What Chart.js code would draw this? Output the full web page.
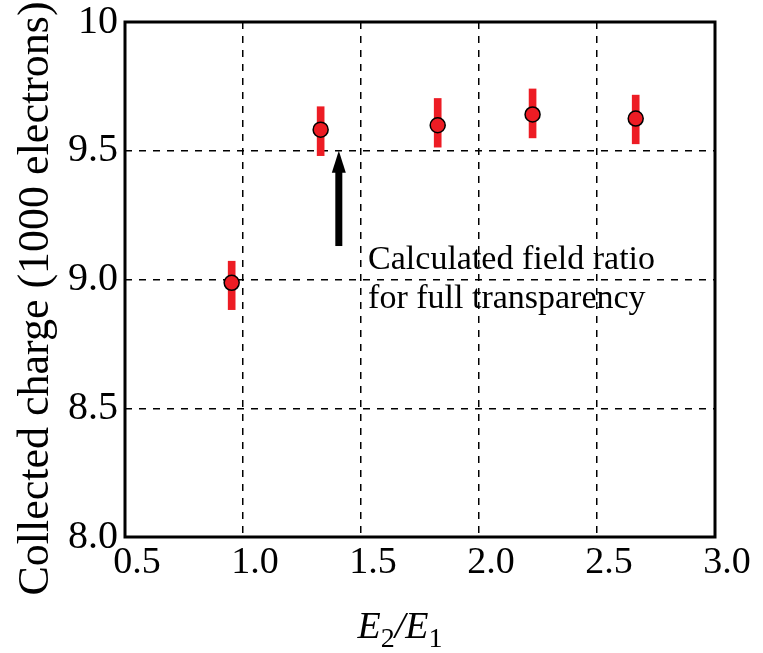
<!DOCTYPE html>
<html lang="en">
<head>
    <meta charset="UTF-8">
    <title>Collected charge vs E2/E1</title>
    <script src="https://cdn.jsdelivr.net/npm/chart.js"></script>
    <style>
        body { margin: 0; background: #fff; }
        #wrap { width: 763px; height: 653px; }
    </style>
</head>
<body>
    <div id="wrap"><canvas id="chartCarga" width="763" height="653"></canvas></div>

    <script>
        // values
        const fieldRatio = [0.952, 1.329, 1.825, 2.227, 2.664];
        const charge     = [8.987, 9.582, 9.599, 9.641, 9.625];
        const errLow     = [8.883, 9.481, 9.514, 9.550, 9.527];
        const errHigh    = [9.071, 9.671, 9.703, 9.740, 9.716];

        const xTicks = [0.5, 1.0, 1.5, 2.0, 2.5, 3.0];
        const yTicks = [8.0, 8.5, 9.0, 9.5, 10];

        // arrow pointing at the calculated ratio, and its note
        const arrowX = 1.406, arrowFrom = 9.13, arrowTo = 9.5;
        const noteX = 1.53, noteY = 9.041;
        const noteLines = ['Calculated field ratio', 'for full transparency'];

        const serif = '"Liberation Serif", "Times New Roman", serif';
        const rojo = '#ed1c24';

        const extras = {
            id: 'extras',
            beforeDatasetsDraw(chart) {
                const { ctx, chartArea: a } = chart;
                ctx.save();
                ctx.strokeStyle = '#000';
                ctx.lineWidth = 3;
                ctx.strokeRect(a.left, a.top, a.right - a.left, a.bottom - a.top);
                ctx.restore();
            },
            afterDatasetsDraw(chart) {
                const { ctx, scales: { x, y } } = chart;
                const px = x.getPixelForValue(arrowX);
                const yTip = y.getPixelForValue(arrowTo);
                const yBase = y.getPixelForValue(arrowFrom);
                ctx.save();
                ctx.fillStyle = '#000';
                ctx.fillRect(px - 3.5, yTip + 18, 7, yBase - yTip - 18);
                ctx.beginPath();
                ctx.moveTo(px, yTip);
                ctx.lineTo(px - 7, yTip + 22);
                ctx.lineTo(px + 7, yTip + 22);
                ctx.closePath();
                ctx.fill();

                ctx.font = '34px ' + serif;
                ctx.textAlign = 'left';
                ctx.textBaseline = 'alphabetic';
                const nx = x.getPixelForValue(noteX);
                const ny = y.getPixelForValue(noteY);
                noteLines.forEach((t, i) => ctx.fillText(t, nx, ny + i * 39));
                ctx.restore();
            },
            afterDraw(chart) {
                const { ctx, chartArea: a } = chart;
                ctx.save();
                ctx.fillStyle = '#000';
                // y title
                ctx.translate(36, (a.top + a.bottom) / 2 + 19);
                ctx.rotate(-Math.PI / 2);
                ctx.font = '44px ' + serif;
                ctx.textAlign = 'center';
                ctx.textBaseline = 'middle';
                ctx.fillText('Collected charge (1000 electrons)', 0, 0);
                ctx.restore();

                // x title E2/E1 with subscripts
                ctx.save();
                ctx.fillStyle = '#000';
                ctx.textBaseline = 'alphabetic';
                ctx.textAlign = 'left';
                const partes = [
                    ['E', 'italic 38px ' + serif, 0],
                    ['2', '28px ' + serif, 9],
                    ['/', 'italic 38px ' + serif, 0],
                    ['E', 'italic 38px ' + serif, 0],
                    ['1', '28px ' + serif, 9]
                ];
                let ancho = 0;
                partes.forEach(p => { ctx.font = p[1]; ancho += ctx.measureText(p[0]).width; });
                let cx = (a.left + a.right) / 2 - ancho / 2 - 20;
                partes.forEach(p => {
                    ctx.font = p[1];
                    ctx.fillText(p[0], cx, 638 + p[2]);
                    cx += ctx.measureText(p[0]).width;
                });
                ctx.restore();
            }
        };

        const ctx = document.getElementById('chartCarga').getContext('2d');
        new Chart(ctx, {
            type: 'scatter',
            data: {
                datasets: [
                    {
                        type: 'scatter',
                        data: fieldRatio.map((v, i) => ({ x: v, y: charge[i] })),
                        pointRadius: 7.5,
                        backgroundColor: rojo,
                        borderColor: '#000',
                        borderWidth: 1.5,
                        order: 0
                    },
                    {
                        type: 'bar',
                        data: fieldRatio.map((v, i) => ({ x: v, y: [errLow[i], errHigh[i]] })),
                        backgroundColor: rojo,
                        borderWidth: 0,
                        barThickness: 7,
                        order: 1
                    }
                ]
            },
            options: {
                responsive: false,
                animation: false,
                layout: { padding: { top: 22, right: 48, left: 0, bottom: 0 } },
                plugins: {
                    legend: { display: false },
                    tooltip: { enabled: false }
                },
                scales: {
                    x: {
                        type: 'linear',
                        min: 0.5,
                        max: 3.0,
                        offset: false,
                        afterBuildTicks: s => { s.ticks = xTicks.map(v => ({ value: v })); },
                        afterFit: s => { s.height = 116; },
                        grid: { color: '#000', lineWidth: 1.5, drawTicks: false, offset: false },
                        border: { display: false, dash: [7, 7] },
                        ticks: {
                            font: { family: serif, size: 38 },
                            color: '#000',
                            padding: 3,
                            labelOffset: 12,
                            maxRotation: 0,
                            autoSkip: false,
                            callback: v => v.toFixed(1)
                        }
                    },
                    y: {
                        type: 'linear',
                        min: 8,
                        max: 10,
                        afterBuildTicks: s => { s.ticks = yTicks.map(v => ({ value: v })); },
                        afterFit: s => { s.width = 125; s.paddingTop = 0; s.paddingBottom = 0; },
                        grid: { color: '#000', lineWidth: 1.5, drawTicks: false },
                        border: { display: false, dash: [7, 7] },
                        ticks: {
                            font: { family: serif, size: 40 },
                            color: '#000',
                            padding: 7,
                            autoSkip: false,
                            callback: v => v === 10 ? '10' : v.toFixed(1)
                        }
                    }
                }
            },
            plugins: [extras]
        });
    </script>
</body>
</html>
